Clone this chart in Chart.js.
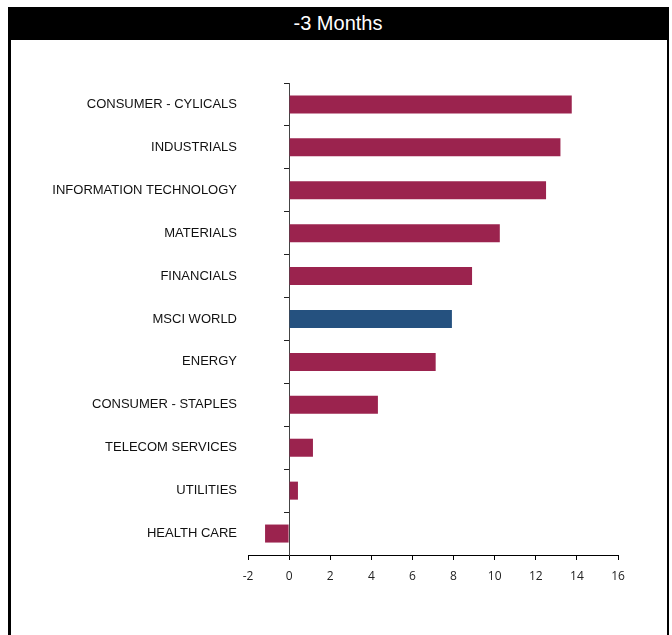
<!DOCTYPE html>
<html>
<head>
<meta charset="utf-8">
<script src="https://cdn.jsdelivr.net/npm/chart.js@4"></script>
<style>
  html, body { margin: 0; padding: 0; background: #fff; }
  #wrap { position: relative; width: 672px; height: 635px; overflow: hidden; }
  #frame {
    position: absolute; left: 8px; top: 7px; width: 656px; height: 640px;
    border-left: 3px solid #000; border-right: 2px solid #000;
  }
  #title {
    position: absolute; left: 8px; top: 7px; width: 660px; height: 33px;
    background: #000; color: #fff; text-align: center;
    font: 20px "Liberation Sans", Arial, sans-serif;
    line-height: 32px;
  }
  canvas { position: absolute; left: 0; top: 0; }
</style>
</head>
<body>
<div id="wrap">
  <div id="frame"></div>
  <div id="title">-3 Months</div>
  <canvas id="chart" width="672" height="635"></canvas>
</div>
<script>
// Sector performance over the last three months (%)
const sectors = [
  'CONSUMER - CYLICALS',
  'INDUSTRIALS',
  'INFORMATION TECHNOLOGY',
  'MATERIALS',
  'FINANCIALS',
  'MSCI WORLD',
  'ENERGY',
  'CONSUMER - STAPLES',
  'TELECOM SERVICES',
  'UTILITIES',
  'HEALTH CARE'
];
const returns3m = [13.75, 13.2, 12.5, 10.25, 8.9, 7.92, 7.13, 4.32, 1.16, 0.43, -1.17];
const benchmark = 'MSCI WORLD';
const xTicks = [-2, 0, 2, 4, 6, 8, 10, 12, 14, 16];

const SECTOR_COLOR = '#9b234e';
const INDEX_COLOR = '#25517f';

new Chart(document.getElementById('chart'), {
  type: 'bar',
  data: {
    labels: sectors,
    datasets: [{
      data: returns3m,
      yAxisID: 'y',
      backgroundColor: sectors.map(s => s === benchmark ? INDEX_COLOR : SECTOR_COLOR),
      borderWidth: 0,
      barPercentage: 0.42,
      categoryPercentage: 1
    }]
  },
  options: {
    indexAxis: 'y',
    responsive: false,
    animation: false,
    events: [],
    layout: { padding: { left: 10, right: 54, top: 83, bottom: 50 } },
    plugins: { legend: { display: false }, tooltip: { enabled: false } },
    scales: {
      x: {
        min: xTicks[0],
        max: xTicks[xTicks.length - 1],
        afterBuildTicks: scale => { scale.ticks = xTicks.map(v => ({ value: v })); },
        afterFit: scale => { scale.height = 30; },
        border: { color: '#000', width: 1 },
        grid: { drawOnChartArea: false, tickLength: 5, color: '#000' },
        ticks: {
          padding: 9,
          color: '#222',
          font: { family: '"Open Sans", sans-serif', size: 12 }
        }
      },
      // category axis crossing at zero: line and boundary tick marks only
      y: {
        position: { x: 0 },
        border: { color: '#444', width: 1 },
        grid: { drawOnChartArea: false, tickLength: 5, color: '#222', offset: true },
        ticks: { display: false }
      },
      // sector names along the left side
      yNames: {
        type: 'category',
        position: 'left',
        afterFit: scale => { scale.width = 238; },
        border: { display: false },
        grid: { display: false, drawTicks: false },
        ticks: {
          padding: 11,
          color: '#111',
          font: { family: '"Liberation Sans", Arial, sans-serif', size: 13 }
        }
      }
    }
  }
});
</script>
</body>
</html>
